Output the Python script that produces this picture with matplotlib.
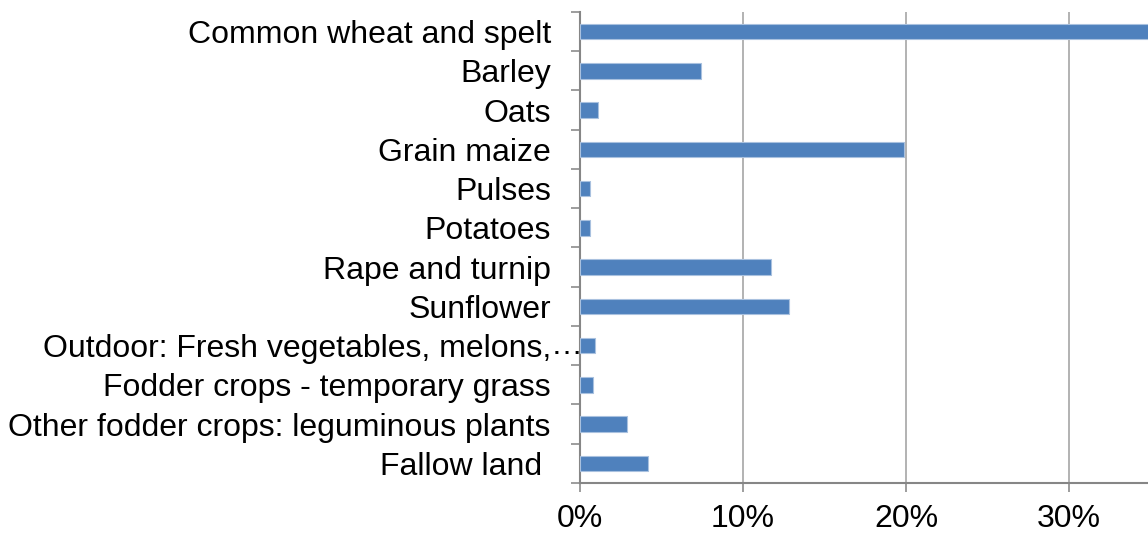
import matplotlib
matplotlib.use("Agg")
import matplotlib.pyplot as plt
import numpy as np

# donnees (part en %)
cultures = ["Common wheat and spelt", "Barley", "Oats", "Grain maize", "Pulses",
            "Potatoes", "Rape and turnip", "Sunflower",
            "Outdoor: Fresh vegetables, melons,", "Fodder crops - temporary grass",
            "Other fodder crops: leguminous plants", "Fallow land "]
parts = [36.0, 7.4, 1.1, 19.9, 0.6, 0.6, 11.7, 12.8, 0.9, 0.8, 2.9, 4.2]
xticks_val = [0, 10, 20, 30]
xticks_lab = ["0%", "10%", "20%", "30%"]

plt.rcParams['font.family'] = ['Liberation Sans', 'DejaVu Sans']

fig = plt.figure(figsize=(11.48, 5.37), dpi=100)
ax = fig.add_axes([0.5052, 0.1006, 0.4948, 0.8771])

n = len(cultures)
pos = np.arange(n)
ax.barh(pos, parts, height=0.39, color='#4F81BD', edgecolor='#A9C1DF',
        linewidth=0.8, zorder=3)

ax.set_ylim(n - 0.5, -0.5)
ax.set_xlim(0, 34.85)

# grille verticale
ax.set_xticks(xticks_val)
ax.set_xticklabels(xticks_lab, fontsize=23)
ax.grid(axis='x', color='#A6A6A6', linewidth=1.2, zorder=0)
ax.tick_params(axis='x', length=6.5, width=1.2, color='#8C8C8C', pad=8.5)

# ticks entre categories, etiquettes au centre
ax.set_yticks(np.arange(n + 1) - 0.5)
ax.set_yticklabels([])
ax.set_yticks(pos, minor=True)
ax.set_yticklabels(cultures, minor=True, fontsize=23)
ax.tick_params(axis='y', which='major', length=6.5, width=1.2, color='#8C8C8C')
ax.tick_params(axis='y', which='minor', length=0, pad=21)

# les points de suspension qui depassent
ax.annotate("…", xy=(0, 8), xycoords=('axes fraction', 'data'),
            xytext=(-21, 0), textcoords='offset points',
            ha='left', va='center', fontsize=23)

for s in ['top', 'right']:
    ax.spines[s].set_visible(False)
ax.spines['left'].set_color('#868686')
ax.spines['bottom'].set_color('#868686')
ax.spines['left'].set_linewidth(1.5)
ax.spines['bottom'].set_linewidth(1.5)

fig.savefig("out.png", dpi=100)
